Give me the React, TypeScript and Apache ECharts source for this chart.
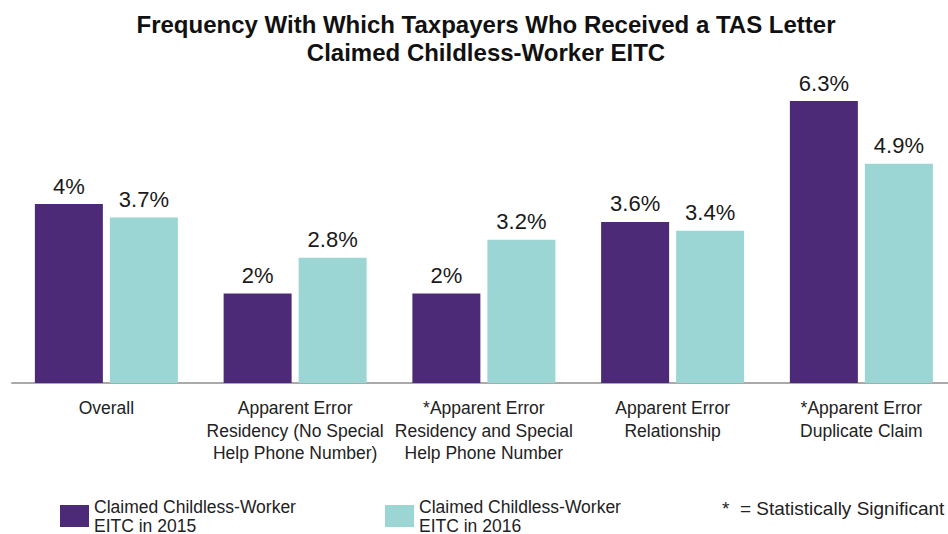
import React, { useEffect, useRef } from "react";
import * as echarts from "echarts";

const categories = [
  "Overall",
  "Apparent Error\nResidency (No Special\nHelp Phone Number)",
  "*Apparent Error\nResidency and Special\nHelp Phone Number",
  "Apparent Error\nRelationship",
  "*Apparent Error\nDuplicate Claim",
];
const series2015 = [4, 2, 2, 3.6, 6.3];
const series2016 = [3.7, 2.8, 3.2, 3.4, 4.9];
const name2015 = "Claimed Childless-Worker\nEITC in 2015";
const name2016 = "Claimed Childless-Worker\nEITC in 2016";
const titleText = "Frequency With Which Taxpayers Who Received a TAS Letter\nClaimed Childless-Worker EITC";
const noteText = "*  = Statistically Significant";

const FONT = "'Liberation Sans', Arial, sans-serif";
const PURPLE = "#4d2a78";
const TEAL = "#9bd6d5";

export default function App() {
  const ref = useRef<HTMLDivElement>(null);
  useEffect(() => {
    if (!ref.current) return;
    const chart = echarts.init(ref.current, null, { renderer: "svg" });
    const legendBase = {
      top: 497,
      padding: 0,
      itemWidth: 29,
      itemHeight: 22,
      itemGap: 7,
      icon: "rect",
      textStyle: { fontFamily: FONT, fontSize: 17.5, lineHeight: 19, color: "#222222" },
    };
    chart.setOption({
      animation: false,
      backgroundColor: "#ffffff",
      title: {
        text: titleText,
        left: 481,
        top: 5,
        textAlign: "center",
        textStyle: {
          fontFamily: FONT,
          fontSize: 24,
          fontWeight: "bold",
          lineHeight: 28,
          color: "#111111",
        },
      },
      legend: [
        { ...legendBase, data: [name2015], left: 60 },
        { ...legendBase, data: [name2016], left: 385 },
      ],
      graphic: [
        {
          type: "text",
          left: 722,
          top: 499,
          style: { text: noteText, fontFamily: FONT, fontSize: 19, fill: "#222222" },
        },
      ],
      grid: { left: 12, width: 943.75, top: 69.75, bottom: 151, containLabel: false },
      xAxis: {
        type: "category",
        data: categories,
        axisLine: { show: true, lineStyle: { color: "#aaaaaa", width: 2 } },
        axisTick: { show: false },
        axisLabel: {
          interval: 0,
          margin: 14,
          fontFamily: FONT,
          fontSize: 17.5,
          lineHeight: 22.5,
          color: "#222222",
        },
      },
      yAxis: {
        type: "value",
        min: 0,
        max: 7,
        show: false,
        splitLine: { show: false },
      },
      series: [
        {
          name: name2015,
          type: "bar",
          data: series2015,
          barWidth: 68,
          barGap: "10.3%",
          itemStyle: { color: PURPLE },
          label: {
            show: true,
            position: "top",
            distance: 7,
            formatter: "{c}%",
            fontFamily: FONT,
            fontSize: 22,
            color: "#1a1a1a",
          },
        },
        {
          name: name2016,
          type: "bar",
          data: series2016,
          barWidth: 68,
          itemStyle: { color: TEAL },
          label: {
            show: true,
            position: "top",
            distance: 7,
            formatter: "{c}%",
            fontFamily: FONT,
            fontSize: 22,
            color: "#1a1a1a",
          },
        },
      ],
    });
    return () => chart.dispose();
  }, []);
  return (
    <div
      ref={ref}
      style={{ position: "fixed", left: 0, top: 0, width: 956, height: 534 }}
    />
  );
}
